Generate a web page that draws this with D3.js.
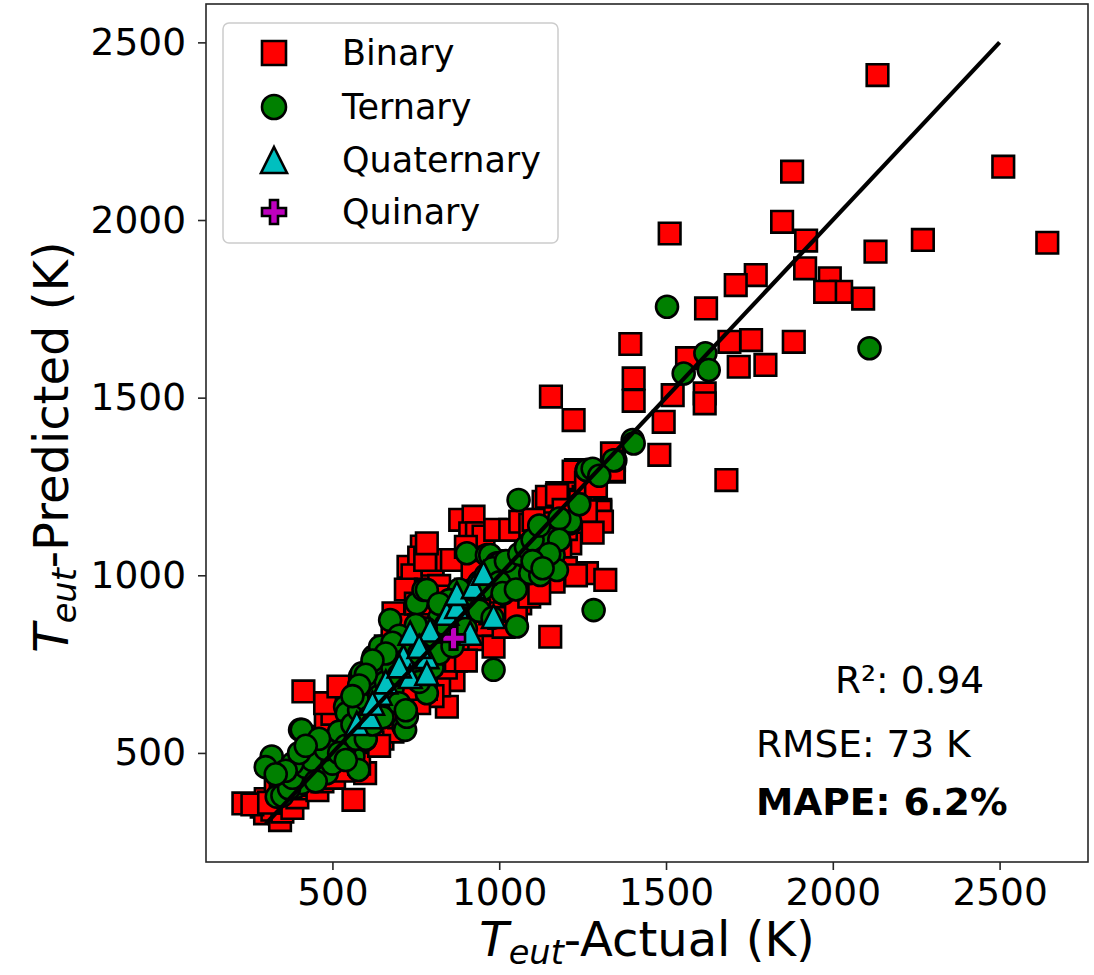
<!DOCTYPE html>
<html>
<head>
<meta charset="utf-8">
<script src="https://cdn.jsdelivr.net/npm/d3@7"></script>
<style>
  html, body { margin: 0; padding: 0; background: #fff; }
  svg { display: block; }
  text { font-family: "DejaVu Sans", sans-serif; fill: #000; }
</style>
</head>
<body>
<svg id="chart" width="1094" height="975"></svg>
<script>
// ---------- data ----------
const seriesNames = ["Binary", "Ternary", "Quaternary", "Quinary"];
const xTicks = [500, 1000, 1500, 2000, 2500];
const yTicks = [500, 1000, 1500, 2000, 2500];
const parityLine = [[300, 300], [2500, 2500]];
const statsLabels = ["R²: 0.94", "RMSE: 73 K", "MAPE: 6.2%"];

const binary = [
  [2134,2408],[2511,2150],[1878,2136],[1848,1995],[1920,1942],[2128,1911],[2270,1944],[2643,1936],[1511,1962],
  [1917,1864],[1991,1836],[2025,1798],[1977,1798],[2091,1779],[1769,1845],[1709,1817],[1620,1751],
  [1883,1657],[1755,1662],[1690,1657],[1718,1587],[1798,1592],[1393,1651],[1403,1554],[1403,1491],
  [1155,1503],[1223,1437],[1563,1611],[1616,1512],[1616,1484],[1520,1507],[1493,1432],[1480,1339],
  [1344,1324],[1344,1292],[1230,1296],[1225,1259],[1242,1212],[1174,1231],[1303,1184],[1681,1268],
  [233,358],[288,349],[298,330],[343,311],[320,340],[350,335],[365,360],[380,345],[300,370],[330,395],
  [355,410],[375,390],[395,375],[390,420],[410,400],[260,355],[345,430],[370,455],[400,445],[310,360],
  [413,673],[420,430],[440,410],[455,395],[470,420],[490,440],[505,430],[520,465],[540,450],[563,368],
  [450,470],[470,500],[440,520],[460,545],[500,520],[520,540],[480,580],[500,610],[478,640],[518,687],
  [430,490],[545,500],[410,470],
  [598,443],[580,470],[560,540],[575,580],[590,620],[610,650],[630,690],[600,560],[620,600],[640,640],
  [655,620],[670,600],[690,660],[660,700],[680,720],[700,700],[650,540],[680,560],[700,600],[620,530],
  [640,520],[690,640],[560,600],[600,700],[640,760],[660,800],[683,893],[680,840],[700,860],[620,720],
  [728,1024],[768,1081],[760,1050],[740,1000],[720,960],[750,920],[780,960],[800,1000],[780,900],[760,860],
  [740,820],[720,780],[710,740],[730,700],[750,680],[770,720],[790,760],[810,800],[830,840],[843,630],
  [863,705],[820,690],[800,660],[840,740],[780,680],[760,640],[800,1030],[820,970],[843,1043],[833,940],
  [778,1043],[783,1090],[858,1043],[850,880],[830,900],[850,780],[720,680],
  [883,1156],[923,1165],[913,1118],[933,1118],[953,1109],[988,1128],[900,1080],[930,1050],[960,1000],[980,960],
  [1000,940],[900,960],[880,920],[870,840],[890,800],[910,860],[940,820],[960,860],[980,900],[983,799],
  [953,940],[973,893],[1000,1040],[870,760],[900,760],[940,900],[920,1010],[1000,880],
  [1033,1128],[1063,1151],[1093,1142],[1123,1156],[1133,1207],[1143,1221],[1173,1226],[1193,1184],[1223,1292],
  [1253,1221],[1213,1090],[1183,1071],[1103,1156],[1263,1006],[1318,987],[1163,982],[1063,921],[1013,855],
  [1153,827],[1243,1207],[1303,1179],[1308,1151],[1343,1296],[1338,1343],[1020,1000],[1050,1030],[1080,1060],
  [1110,1080],[1140,1120],[1040,980],[1070,960],[1100,1000],[1130,1040],[1160,1060],[1200,1130],[1230,1150],
  [1260,1180],[1280,1120],[1050,900],[1090,940],[1120,950],[1200,1020],[1230,1000],[1260,1260],[1290,1250]
];

const ternary = [
  [1503,1756],[2110,1639],[1618,1625],[1553,1568],[1628,1578],[1400,1381],[1348,1324],[1262,1296],
  [318,490],[333,377],[348,443],[393,405],[403,565],[408,415],[408,565],[433,499],[468,443],[483,443],
  [538,630],[543,612],[558,490],[563,490],[578,452],[583,715],[588,724],[598,537],[623,771],[643,799],
  [663,724],[673,874],[713,574],[718,565],[723,602],[753,921],[773,959],[783,668],[783,959],[903,1062],
  [963,1057],[973,1057],[993,1034],[1003,1034],[1013,949],[1038,1001],[1043,1001],[1058,1212],[1093,1006],
  [1123,1001],[1143,1099],[1148,1104],[1163,1057],[1173,1015],[1213,1146],[1213,1151],[1263,1296],[1343,1324],
  [1403,1371],[1053,856],[983,734],[1283,902],
  [350,380],[370,400],[380,430],[420,460],[440,480],[450,420],[500,470],[510,520],[520,560],[480,510],
  [460,540],[540,520],[560,580],[580,620],[600,650],[620,690],[640,660],[660,700],[680,740],[700,780],
  [720,760],[740,800],[760,820],[650,620],[610,600],[590,560],[570,540],[680,680],[700,720],[730,740],
  [760,780],[800,830],[820,880],[840,860],[860,900],[880,900],[900,940],[920,960],[940,980],[960,1000],
  [980,1020],[1000,980],[1020,1040],[1060,1060],[1080,1080],[1100,1100],[1120,1140],[1180,1160],[1240,1200],
  [1280,1300],[1300,1280],[1180,1100],[1150,1060],[950,960],[880,960],[850,930],[820,920],[780,850],
  [750,860],[700,830],[680,810],[660,780],[620,760],[600,720],[580,690],[560,660],[380,470],[360,450],
  [300,460],[330,440],[400,500],[420,520],[520,500],[540,480],[600,540],[620,580],[650,600],[700,640],
  [720,620],[760,700],[800,740],[820,780],[860,800],[900,850],[940,900],[980,880],[1010,950],[1050,960],
  [1100,1040],[1130,1020]
];

const quaternary = [
  [573,583],[613,602],[643,668],[660,700],[713,771],[733,715],[783,771],[783,724],[733,837],[793,846],
  [843,893],[873,912],[873,949],[923,968],[953,1006],[983,884],[913,837],[700,745],[620,640],[760,800]
];

const quinary = [[863,823]];

// ---------- layout ----------
const plot = { left: 206, right: 1088, top: 4, bottom: 862 };
const svg = d3.select("#chart");

const x = d3.scaleLinear().domain([121, 2765]).range([plot.left, plot.right]);
const y = d3.scaleLinear().domain([193, 2608]).range([plot.bottom, plot.top]);

const colors = { Binary: "#ff0000", Ternary: "#008000", Quaternary: "#00bfbf", Quinary: "#bf00bf" };

function markerPath(kind, h) {
  if (kind === "Binary") return `M${-h},${-h}H${h}V${h}H${-h}Z`;
  if (kind === "Ternary") { const p = d3.path(); p.arc(0, 0, h, 0, 2 * Math.PI); p.closePath(); return p.toString(); }
  if (kind === "Quaternary") return `M0,${-h}L${h},${h}L${-h},${h}Z`;
  const a = h / 3;
  return `M${-a},${-h}H${a}V${-a}H${h}V${a}H${a}V${h}H${-a}V${a}H${-h}V${-a}H${-a}Z`;
}

svg.append("defs").append("clipPath").attr("id", "clip")
  .append("rect").attr("x", plot.left).attr("y", plot.top)
  .attr("width", plot.right - plot.left).attr("height", plot.bottom - plot.top);

const gData = svg.append("g").attr("clip-path", "url(#clip)");
const seriesData = { Binary: binary, Ternary: ternary, Quaternary: quaternary, Quinary: quinary };
const halfSize = { Binary: 10.8, Ternary: 11, Quaternary: 11.5, Quinary: 11.5 };

seriesNames.forEach(name => {
  gData.append("g").selectAll("path").data(seriesData[name]).join("path")
    .attr("d", markerPath(name, halfSize[name]))
    .attr("transform", d => `translate(${x(d[0])},${y(d[1])})`)
    .attr("fill", colors[name])
    .attr("stroke", "#000")
    .attr("stroke-width", 2.6)
    .attr("stroke-linejoin", "miter");
});

// parity line
gData.append("path")
  .datum(parityLine)
  .attr("d", d3.line().x(d => x(d[0])).y(d => y(d[1])))
  .attr("stroke", "#000").attr("stroke-width", 4.2).attr("fill", "none");

// frame
svg.append("rect")
  .attr("x", plot.left).attr("y", plot.top)
  .attr("width", plot.right - plot.left).attr("height", plot.bottom - plot.top)
  .attr("fill", "none").attr("stroke", "#262626").attr("stroke-width", 1.6);

// axes
const xAxis = d3.axisBottom(x).tickValues(xTicks).tickSize(8).tickPadding(8).tickFormat(d3.format("d"));
const yAxis = d3.axisLeft(y).tickValues(yTicks).tickSize(8).tickPadding(12).tickFormat(d3.format("d"));

const gx = svg.append("g").attr("transform", `translate(0,${plot.bottom})`).call(xAxis);
const gy = svg.append("g").attr("transform", `translate(${plot.left},0)`).call(yAxis);
[gx, gy].forEach(g => {
  g.select(".domain").remove();
  g.selectAll(".tick line").attr("stroke", "#262626").attr("stroke-width", 1.6);
  g.selectAll(".tick text").attr("font-family", "DejaVu Sans").attr("font-size", "37.5px").attr("fill", "#000");
});

// axis labels
const labelSize = 48;
const xl = svg.append("text")
  .attr("x", (plot.left + plot.right) / 2).attr("y", 956)
  .attr("text-anchor", "middle").attr("font-size", labelSize + "px");
xl.append("tspan").attr("font-style", "italic").text("T");
xl.append("tspan").attr("font-style", "italic").attr("font-size", (labelSize * 0.7) + "px").attr("dy", labelSize * 0.17).text("eut");
xl.append("tspan").attr("dy", -labelSize * 0.17).text("-Actual (K)");

const yl = svg.append("text")
  .attr("transform", `translate(68,${(plot.top + plot.bottom) / 2 + 14}) rotate(-90)`)
  .attr("text-anchor", "middle").attr("font-size", labelSize + "px");
yl.append("tspan").attr("font-style", "italic").text("T");
yl.append("tspan").attr("font-style", "italic").attr("font-size", (labelSize * 0.7) + "px").attr("dy", labelSize * 0.17).text("eut");
yl.append("tspan").attr("dy", -labelSize * 0.17).text("-Predicted (K)");

// stats text
const statPos = [[835, 693, "normal"], [756, 757, "normal"], [756, 815, "bold"]];
statsLabels.forEach((t, i) => {
  svg.append("text").attr("x", statPos[i][0]).attr("y", statPos[i][1])
    .attr("font-size", "37.5px").attr("font-weight", statPos[i][2]).text(t);
});

// legend
const lg = svg.append("g");
lg.append("rect").attr("x", 223).attr("y", 23).attr("width", 335).attr("height", 220)
  .attr("rx", 6).attr("ry", 6)
  .attr("fill", "#fff").attr("fill-opacity", 0.8)
  .attr("stroke", "#cccccc").attr("stroke-width", 1.5);
const legendY = [53, 107, 160, 212];
seriesNames.forEach((name, i) => {
  lg.append("path")
    .attr("d", markerPath(name, name === "Quaternary" ? 13 : 12))
    .attr("transform", `translate(274,${legendY[i]})`)
    .attr("fill", colors[name]).attr("stroke", "#000").attr("stroke-width", 2.6);
  lg.append("text").attr("x", 342).attr("y", legendY[i] + 12)
    .attr("font-size", "35px").text(name);
});
</script>
</body>
</html>
